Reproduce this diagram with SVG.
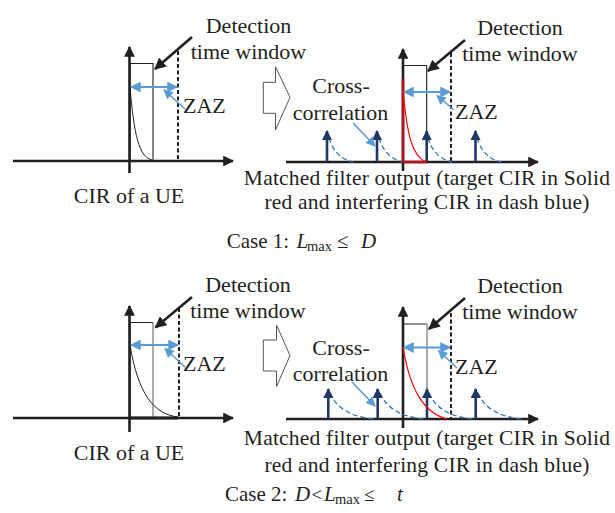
<svg xmlns="http://www.w3.org/2000/svg" width="615" height="513" viewBox="0 0 615 513">
<defs>
<marker id="ah" viewBox="0 0 10 10" refX="9" refY="5" markerWidth="4.2" markerHeight="4.2" orient="auto" markerUnits="strokeWidth">
<path d="M0,0 L10,5 L0,10 z" fill="#231f20"/>
</marker>
<marker id="bh" viewBox="0 0 10 10" refX="9" refY="5" markerWidth="7" markerHeight="6" orient="auto-start-reverse" markerUnits="strokeWidth">
<path d="M0,0 L10,5 L0,10 z" fill="#5b9bd5"/>
</marker>
<marker id="nh" viewBox="0 0 10 10" refX="9" refY="5" markerWidth="4" markerHeight="4" orient="auto" markerUnits="strokeWidth">
<path d="M0,0 L10,5 L0,10 z" fill="#1f3864"/>
</marker>
<marker id="kh" viewBox="0 0 10 10" refX="9" refY="5" markerWidth="4.5" markerHeight="4.5" orient="auto" markerUnits="strokeWidth">
<path d="M0,0 L10,5 L0,10 z" fill="#231f20"/>
</marker>
</defs>
<style>
text{font-family:"Liberation Serif","Times New Roman",serif;font-size:22px;fill:#231f20}
.m{text-anchor:middle}
.mf{font-size:21.5px;letter-spacing:0.2px}
.cs{font-size:21px}
.sub{font-size:14.5px}
.op{font-size:19px}
.axis{stroke:#231f20;stroke-width:2.6;fill:none;marker-end:url(#ah)}
.win{stroke:#231f20;stroke-width:1.1;fill:none}
.dash{stroke:#231f20;stroke-width:2;stroke-dasharray:4 2.5;fill:none}
.zaz{stroke:#5b9bd5;stroke-width:1.8;fill:none;marker-start:url(#bh);marker-end:url(#bh)}
.ptr{stroke:#5b9bd5;stroke-width:1.6;fill:none;marker-end:url(#bh)}
.kptr{stroke:#231f20;stroke-width:2.6;fill:none;marker-end:url(#kh)}
.imp{stroke:#1f3864;stroke-width:2.6;fill:none;marker-end:url(#nh)}
.dec{stroke:#2e75b6;stroke-width:1.3;stroke-dasharray:5 3;fill:none}
.cir{stroke:#231f20;stroke-width:1;fill:none}
.red{stroke:#ff0000;stroke-width:1.2;fill:none}
.blk{fill:#fff;stroke:#555;stroke-width:1}
.gry{stroke:#888;stroke-width:1.4}
</style>

<g id="case1-cir">
<line class="axis" x1="13" y1="161" x2="233" y2="161"/>
<line class="axis" x1="129.5" y1="173" x2="129.5" y2="47"/>
<path class="win" d="M130,161 V63.5 H153 V161"/>
<line class="dash" x1="178" y1="51" x2="178" y2="161"/>
<path class="cir" d="M130,87 C134,135 139,157 152,160"/>
<line class="zaz" x1="131" y1="87" x2="177" y2="87"/>
<line class="ptr" x1="185" y1="109" x2="164" y2="90"/>
<line class="kptr" x1="192" y1="37" x2="155" y2="69"/>
<text class="m"><tspan x="248.5" y="33">Detection</tspan><tspan x="248.5" y="59">time window</tspan></text>
<text x="183" y="113">ZAZ</text>
<text class="m" x="129" y="203">CIR of a UE</text>
</g>

<g id="case1-arrow">
<polygon class="blk" points="263.3,82.3 275.5,82.3 275.5,66.7 290,97.3 275.5,130 275.5,113.3 263.3,113.3"/>
</g>

<g id="case1-mf">
<line class="axis" x1="286" y1="162" x2="538" y2="162"/>
<line class="axis" x1="403" y1="171" x2="403" y2="49"/>
<path class="win" d="M403,162 V65.5 H426.7"/>
<line class="dash" x1="451" y1="53" x2="451" y2="162"/>
<g>
<path class="dec" d="M329,138 Q335,158 353,162"/>
<path class="dec" d="M379,138 Q385,158 403,162"/>
<path class="dec" d="M428,138 Q434,158 452,162"/>
<path class="dec" d="M477,138 Q483,158 501,162"/>
</g>
<line class="imp" x1="327" y1="162" x2="327" y2="131"/>
<line class="imp" x1="377" y1="162" x2="377" y2="131"/>
<line class="imp" x1="426.7" y1="162" x2="426.7" y2="131"/>
<line x1="426.7" y1="131" x2="426.7" y2="65.5" class="win"/>
<line class="imp" x1="475.5" y1="162" x2="475.5" y2="131"/>
<line x1="403" y1="79" x2="403" y2="162" stroke="#b0151c" stroke-width="2.6"/>
<line x1="403" y1="162" x2="426.7" y2="162" stroke="#b0151c" stroke-width="2.6"/>
<path class="red" d="M403,90 C407,135 412,156 426,162"/>
<line class="zaz" x1="404" y1="92" x2="450" y2="92"/>
<line class="ptr" x1="454" y1="110" x2="437" y2="95.5"/>
<line class="ptr" x1="353" y1="123" x2="375" y2="146"/>
<line class="kptr" x1="465" y1="40" x2="428" y2="71"/>
<text class="m"><tspan x="520" y="35">Detection</tspan><tspan x="520" y="61">time window</tspan></text>
<text class="m"><tspan x="341" y="93">Cross-</tspan><tspan x="340.5" y="120">correlation</tspan></text>
<text x="455" y="119">ZAZ</text>
<text class="m mf"><tspan x="427" y="184.5">Matched filter output (target CIR in Solid</tspan><tspan x="427" y="208.5">red and interfering CIR in dash blue)</tspan></text>
</g>

<g id="case1-label">
<text class="cs" y="248"><tspan x="226.7">Case 1: </tspan><tspan x="296.5" font-style="italic">L</tspan><tspan class="sub" x="307" dy="3">max</tspan><tspan x="337" dy="-3">≤</tspan><tspan x="361" font-style="italic">D</tspan></text>
</g>

<g id="case2-cir">
<line class="axis" x1="13" y1="418" x2="233" y2="418"/>
<line class="axis" x1="129.5" y1="432" x2="129.5" y2="306"/>
<path class="win" d="M130,418 V322.5 H153"/>
<line class="gry" x1="153" y1="322.5" x2="153" y2="418"/>
<line class="dash" x1="179" y1="308" x2="179" y2="418"/>
<path class="cir" d="M130,345 C138,393 153,414 178,417"/>
<line x1="130" y1="418" x2="178" y2="418" stroke="#231f20" stroke-width="3"/>
<line class="zaz" x1="131" y1="345" x2="178" y2="345"/>
<line class="ptr" x1="185" y1="367" x2="165" y2="348.5"/>
<line class="kptr" x1="192" y1="297" x2="155.5" y2="327.5"/>
<text class="m"><tspan x="248" y="292">Detection</tspan><tspan x="248" y="318">time window</tspan></text>
<text x="183" y="371">ZAZ</text>
<text class="m" x="129" y="460">CIR of a UE</text>
</g>

<g id="case2-arrow">
<polygon class="blk" points="263.3,340 276.5,340 276.5,325 290,355.5 276.5,386.7 276.5,371 263.3,371"/>
</g>

<g id="case2-mf">
<line class="axis" x1="286" y1="419" x2="538" y2="419"/>
<line class="axis" x1="403" y1="428" x2="403" y2="307"/>
<path class="win" d="M403,419 V324 H426.7"/>
<line class="gry" x1="427" y1="324" x2="427" y2="392"/>
<line class="dash" x1="451" y1="313" x2="451" y2="419"/>
<g>
<path class="dec" d="M330,393 Q340,416 374,419"/>
<path class="dec" d="M380,393 Q390,416 424,419"/>
<path class="dec" d="M429,393 Q439,416 473,419"/>
<path class="dec" d="M478,393 Q488,416 522,419"/>
</g>
<line class="imp" x1="328.3" y1="419" x2="328.3" y2="389"/>
<line class="imp" x1="377.7" y1="419" x2="377.7" y2="389"/>
<line class="imp" x1="427" y1="419" x2="427" y2="389"/>
<line class="imp" x1="475.7" y1="419" x2="475.7" y2="389"/>
<path class="red" d="M403,347 C410,390 424,413 447,419"/>
<line class="zaz" x1="404" y1="347.5" x2="450" y2="347.5"/>
<line class="ptr" x1="457" y1="368" x2="438.5" y2="350.5"/>
<line class="ptr" x1="352" y1="382" x2="375" y2="406"/>
<line class="kptr" x1="465" y1="298" x2="429" y2="329"/>
<text class="m"><tspan x="520" y="293">Detection</tspan><tspan x="520" y="319">time window</tspan></text>
<text class="m"><tspan x="341" y="355">Cross-</tspan><tspan x="340.5" y="381">correlation</tspan></text>
<text x="455" y="374">ZAZ</text>
<text class="m mf"><tspan x="427" y="444.5">Matched filter output (target CIR in Solid</tspan><tspan x="427" y="471.5">red and interfering CIR in dash blue)</tspan></text>
</g>

<g id="case2-label">
<text class="cs" y="501"><tspan x="225">Case 2: </tspan><tspan x="295" font-style="italic">D</tspan><tspan class="op" x="311.5">&lt;</tspan><tspan x="324" font-style="italic">L</tspan><tspan class="sub" x="335" dy="3">max</tspan><tspan class="op" x="364" dy="-3">≤</tspan><tspan x="397" font-style="italic">t</tspan></text>
</g>
</svg>
